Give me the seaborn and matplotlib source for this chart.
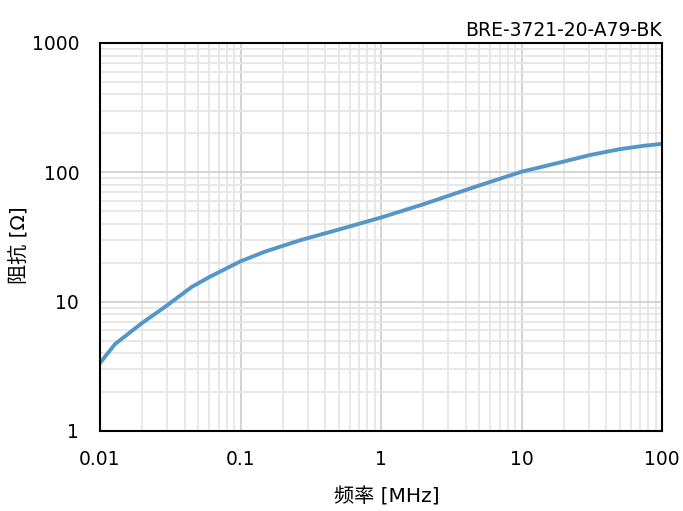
import numpy as np
import pandas as pd
import matplotlib
matplotlib.use('Agg')
import matplotlib.pyplot as plt
import seaborn as sns
from matplotlib.ticker import LogLocator, NullFormatter, FixedLocator, FixedFormatter

# 数据
freq_mhz = [0.01, 0.0128, 0.0198, 0.0298, 0.045, 0.0607, 0.1, 0.15, 0.265, 0.51,
            1, 2, 3.1, 5.07, 10, 19.9, 30.7, 50, 73, 100]
impedance = [3.35, 4.7, 6.8, 9.3, 13.0, 15.6, 20.5, 24.4, 29.8, 36.3,
             44.7, 56.6, 66.5, 79.5, 101, 121, 136, 151, 160, 166]
part_name = 'BRE-3721-20-A79-BK'
x_ticks = [0.01, 0.1, 1, 10, 100]
x_labels = ['0.01', '0.1', '1', '10', '100']
y_ticks = [1, 10, 100, 1000]
y_labels = ['1', '10', '100', '1000']

sns.set_theme(style='white')
plt.rcParams['font.family'] = ['DejaVu Sans', 'Noto Sans CJK JP']
plt.rcParams['axes.unicode_minus'] = False

df = pd.DataFrame({'freq': freq_mhz, 'z': impedance})

fig = plt.figure(figsize=(6.83, 5.11), dpi=100)
ax = fig.add_axes([0.1464, 0.1566, 0.9693 - 0.1464, 0.9159 - 0.1566])

ax.set_xscale('log')
ax.set_yscale('log')
ax.set_xlim(0.01, 100)
ax.set_ylim(1, 1000)

# 网格
ax.xaxis.set_minor_locator(LogLocator(base=10, subs=np.arange(2, 10)))
ax.yaxis.set_minor_locator(LogLocator(base=10, subs=np.arange(2, 10)))
ax.xaxis.set_minor_formatter(NullFormatter())
ax.yaxis.set_minor_formatter(NullFormatter())
ax.grid(which='major', color='#d0d0d0', linewidth=1.3)
ax.grid(which='minor', color='#e6e6e6', linewidth=1.3)
ax.set_axisbelow(True)

sns.lineplot(data=df, x='freq', y='z', ax=ax, color='#5596c8', linewidth=2.8)

ax.xaxis.set_major_locator(FixedLocator(x_ticks))
ax.xaxis.set_major_formatter(FixedFormatter(x_labels))
ax.yaxis.set_major_locator(FixedLocator(y_ticks))
ax.yaxis.set_major_formatter(FixedFormatter(y_labels))
ax.tick_params(axis='both', which='both', length=0, labelsize=13.5, colors='black')
ax.tick_params(axis='x', pad=14)
ax.tick_params(axis='y', pad=15)

for s in ax.spines.values():
    s.set_color('black')
    s.set_linewidth(1.5)

ax.set_xlabel('频率 [MHz]', fontsize=14.5, va='center', color='black')
ax.xaxis.set_label_coords(0.511, -0.170)
ax.set_ylabel('阻抗 [Ω]', fontsize=14.5, va='center', color='black')
ax.yaxis.set_label_coords(-0.142, 0.48)
ax.set_title(part_name, loc='right', fontsize=13.5, pad=5, color='black')

fig.savefig('out.png', dpi=100)
